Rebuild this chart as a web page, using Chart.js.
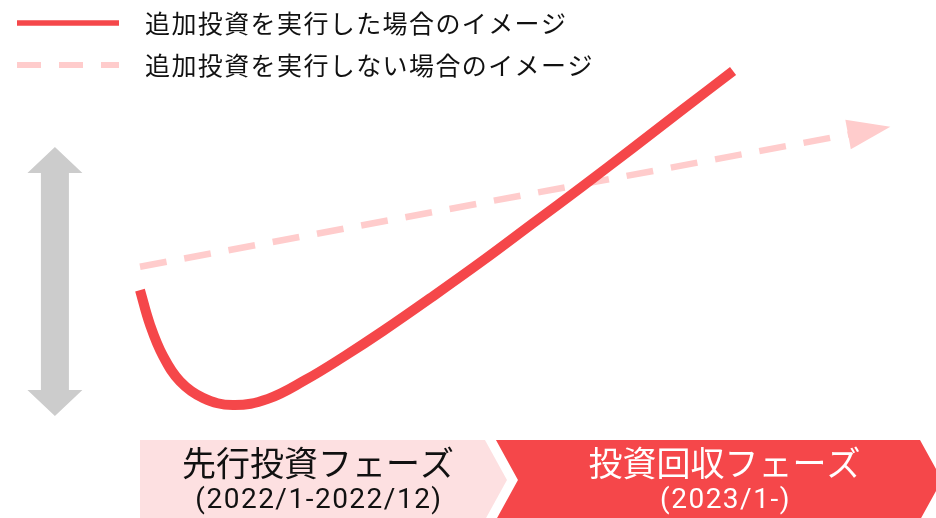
<!DOCTYPE html>
<html lang="ja">
<head>
<meta charset="utf-8">
<title>追加投資のイメージ</title>
<script src="https://cdn.jsdelivr.net/npm/chart.js@4/dist/chart.umd.min.js"></script>
<style>
    html, body { margin: 0; padding: 0; background: #fff; }
    #wrap { position: relative; width: 936px; height: 518px; }
</style>
</head>
<body>
<div id="wrap"><canvas id="jcurveChart"></canvas></div>
<script>
// ============================================
// DATA (x = months since 2022/1, y = relative level)
// ============================================

const seriesLabels = ['追加投資を実行した場合のイメージ', '追加投資を実行しない場合のイメージ'];

const investMonths = [0, 0.35, 0.8, 1.39, 2.19, 3.23, 4.45, 5.74, 7.13, 8.45, 10.19, 11.93, 13.67, 15.41, 17.11, 18.89, 20.63];
const investValues = [44.0, 37.3, 31.3, 26.4, 23.2, 21.8, 23.0, 26.6, 31.3, 36.1, 42.8, 49.7, 56.9, 64.1, 71.3, 78.9, 86.3];

const noInvestMonths = [0, 24.7];
const noInvestValues = [48.5, 74.1];

const phaseNames = ['先行投資フェーズ', '投資回収フェーズ'];
const phasePeriods = ['(2022/1-2022/12)', '(2023/1-)'];
const phaseStarts = [0, 12];
const phaseEnds = [12, null];

// span of the grey double arrow on the left (y units)
const rangeArrow = [19.7, 71.6];

// ============================================
// STYLES
// ============================================

const RED = '#f5474a';
const PINK_LINE = '#ffcccc';
const PINK_BAND = '#fde0e1';
const GREY = '#cccccc';
const JP_FONT = '"Noto Sans CJK JP", "Noto Sans", sans-serif';
const NUM_FONT = 'Roboto, "Noto Sans", sans-serif';

// ============================================
// PLUGINS
// ============================================

// arrowhead at the end of the dashed line
const arrowHeadPlugin = {
    id: 'arrowHead',
    afterDatasetsDraw(chart) {
        const meta = chart.getDatasetMeta(1);
        const pts = meta.data;
        if (pts.length < 2) return;
        const a = pts[pts.length - 2], b = pts[pts.length - 1];
        const ang = Math.atan2(b.y - a.y, b.x - a.x);
        const len = 41, half = 15;
        const ctx = chart.ctx;
        ctx.save();
        ctx.translate(b.x, b.y);
        ctx.rotate(ang);
        ctx.beginPath();
        ctx.moveTo(-2, -half);
        ctx.lineTo(len, 0);
        ctx.lineTo(-2, half);
        ctx.closePath();
        ctx.fillStyle = chart.data.datasets[1].borderColor;
        ctx.fill();
        ctx.restore();
    }
};

// grey double arrow + phase chevrons
const decorPlugin = {
    id: 'decor',
    beforeDatasetsDraw(chart) {
        const { ctx, chartArea: area, scales: { x, y } } = chart;
        ctx.save();

        // double arrow
        const cx = x.getPixelForValue(-2.96);
        const top = y.getPixelForValue(rangeArrow[1]);
        const bot = y.getPixelForValue(rangeArrow[0]);
        const headW = 27.5, headH = 26, shaftW = 14;
        ctx.fillStyle = GREY;
        ctx.beginPath();
        ctx.moveTo(cx, top);
        ctx.lineTo(cx + headW, top + headH);
        ctx.lineTo(cx + shaftW, top + headH);
        ctx.lineTo(cx + shaftW, bot - headH);
        ctx.lineTo(cx + headW, bot - headH);
        ctx.lineTo(cx, bot);
        ctx.lineTo(cx - headW, bot - headH);
        ctx.lineTo(cx - shaftW, bot - headH);
        ctx.lineTo(cx - shaftW, top + headH);
        ctx.lineTo(cx - headW, top + headH);
        ctx.closePath();
        ctx.fill();

        // phase bands
        const bandTop = area.bottom - 78, bandBot = area.bottom + 2;
        const mid = (bandTop + bandBot) / 2;
        const depth = 22, gap = 11;
        const fills = [PINK_BAND, RED];
        const inks = ['#111111', '#ffffff'];

        phaseNames.forEach((name, i) => {
            const left = i === 0 ? x.getPixelForValue(phaseStarts[i]) : x.getPixelForValue(phaseStarts[i]) + gap;
            const right = phaseEnds[i] == null ? area.right - 16 : x.getPixelForValue(phaseEnds[i]);

            ctx.beginPath();
            ctx.moveTo(left, bandTop);
            ctx.lineTo(right, bandTop);
            ctx.lineTo(right + depth, mid);
            ctx.lineTo(right, bandBot);
            ctx.lineTo(left, bandBot);
            if (i > 0) ctx.lineTo(left + depth, mid);
            ctx.closePath();
            ctx.fillStyle = fills[i];
            ctx.fill();

            const tx = (left + right) / 2 + (i > 0 ? depth * 0.75 : depth / 4);
            ctx.fillStyle = inks[i];
            ctx.textAlign = 'center';
            ctx.textBaseline = 'middle';
            ctx.letterSpacing = '0px';
            ctx.font = '34px ' + JP_FONT;
            ctx.fillText(name, tx, 463);
            ctx.letterSpacing = '1.5px';
            ctx.font = '28px ' + NUM_FONT;
            ctx.fillText(phasePeriods[i], tx + 1, 501);
        });

        ctx.restore();
    }
};

// legend with line samples
const lineLegendPlugin = {
    id: 'lineLegend',
    afterDraw(chart) {
        const ctx = chart.ctx;
        const rows = [23, 65];
        ctx.save();
        chart.data.datasets.forEach((ds, i) => {
            ctx.beginPath();
            ctx.setLineDash(ds.legendDash || []);
            ctx.lineWidth = ds.legendWidth;
            ctx.strokeStyle = ds.borderColor;
            ctx.moveTo(17, rows[i]);
            ctx.lineTo(119, rows[i]);
            ctx.stroke();

            ctx.setLineDash([]);
            ctx.fillStyle = '#111111';
            ctx.font = '25px ' + JP_FONT;
            ctx.letterSpacing = '1.4px';
            ctx.textAlign = 'left';
            ctx.textBaseline = 'middle';
            ctx.fillText(ds.label, 145, rows[i]);
        });
        ctx.restore();
    }
};

// ============================================
// CHART
// ============================================

function toPoints(xs, ys) {
    return xs.map((v, i) => ({ x: v, y: ys[i] }));
}

const ctx = document.getElementById('jcurveChart');

new Chart(ctx, {
    type: 'line',
    data: {
        datasets: [{
            label: seriesLabels[0],
            data: toPoints(investMonths, investValues),
            borderColor: RED,
            borderWidth: 10,
            borderCapStyle: 'butt',
            borderJoinStyle: 'round',
            tension: 0.4,
            pointRadius: 0,
            fill: false,
            legendWidth: 5.5
        }, {
            label: seriesLabels[1],
            data: toPoints(noInvestMonths, noInvestValues),
            borderColor: PINK_LINE,
            borderWidth: 6.5,
            borderDash: [27, 18],
            borderCapStyle: 'butt',
            pointRadius: 0,
            fill: false,
            legendWidth: 6,
            legendDash: [24, 18]
        }]
    },
    options: {
        responsive: true,
        maintainAspectRatio: false,
        animation: false,
        layout: { padding: 0 },
        clip: false,
        scales: {
            x: { type: 'linear', display: false, min: -4.87, max: 27.69 },
            y: { type: 'linear', display: false, min: 0, max: 100 }
        },
        plugins: {
            legend: { display: false },
            tooltip: { enabled: false }
        }
    },
    plugins: [decorPlugin, arrowHeadPlugin, lineLegendPlugin]
});
</script>
</body>
</html>
